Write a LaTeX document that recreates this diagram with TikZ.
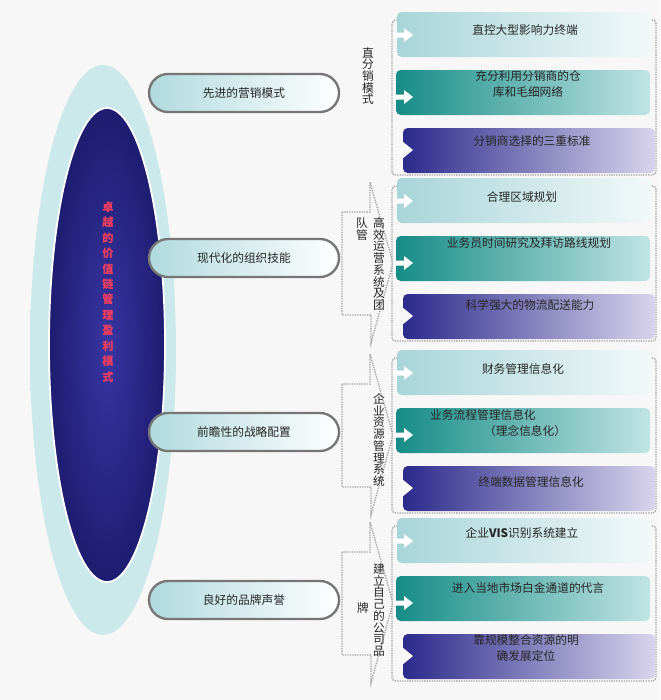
\documentclass[tikz,border=0pt]{standalone}
\usepackage{fontspec}
\setmainfont{Noto Sans CJK SC}
\usetikzlibrary{positioning, shapes.geometric, calc}
\definecolor{pagebg}{RGB}{247,247,247}
\definecolor{halo}{RGB}{186,224,228}
\definecolor{coreblue}{RGB}{30,28,112}
\definecolor{corelight}{RGB}{56,54,162}
\definecolor{pillrim}{RGB}{118,118,118}
\definecolor{pillcyan}{RGB}{176,218,222}
\definecolor{paleteal}{RGB}{168,213,217}
\definecolor{deepteal}{RGB}{22,140,134}
\definecolor{lightteal}{RGB}{192,228,228}
\definecolor{navyband}{RGB}{44,42,140}
\definecolor{lavender}{RGB}{216,212,236}
\definecolor{titlered}{RGB}{255,62,92}

\begin{document}
\begin{tikzpicture}[x=0.03cm, y=-0.03cm,
    pill/.style={draw=pillrim, line width=2pt, rounded corners=0.57cm, minimum width=5.7cm, minimum height=1.14cm, left color=pillcyan, right color=white, font=\fontsize{10}{12}\selectfont, text=black!85},
    frame/.style={densely dotted, draw=gray!75, line width=1.1pt, rounded corners=3pt},
    flag/.style={densely dotted, draw=gray!75, line width=1.1pt, left color=pagebg, middle color=gray!60, right color=pagebg},
    bartxt/.style={font=\fontsize{10}{14}\selectfont, text=black!85, align=center, inner sep=0pt},
    vlabel/.style={font=\fontsize{10}{10}\selectfont, text=black!85, align=center, inner sep=0pt},
]
% Background
\fill[pagebg] (0,0) rectangle (660,700);

% Core ellipse
\path[left color=halo!75!white, middle color=halo, right color=halo!75!white] (103,350) ellipse [x radius=73, y radius=285];
\path[draw=white, line width=1.5pt, inner color=corelight, outer color=coreblue] (107,345) ellipse [x radius=58, y radius=237];
\node[font=\fontsize{9.5}{13.2}\selectfont\bfseries, text=titlered, align=center, inner sep=0pt] (title) at (108,292) {卓\\越\\的\\价\\值\\链\\管\\理\\盈\\利\\模\\式};

% Pillars
\node[pill] (marketing) at (244,93) {先进的营销模式};
\node[pill] (organize) at (244,258) {现代化的组织技能};
\node[pill] (strategy) at (244,432) {前瞻性的战略配置};
\node[pill] (brand) at (244,600) {良好的品牌声誉};

% Side flags
\foreach \gy in {178,350,518}{
  \path[flag] (342,\gy+34) -- (370,\gy+34) -- (370,\gy+4) -- (393,\gy+85) -- (371,\gy+165) -- (371,\gy+137) -- (342,\gy+137) -- cycle;
}

% Groups of bands
\foreach \gy in {12,178,350,518}{
  \draw[frame] (392,\gy+8) rectangle (656,\gy+163);
  \path[rounded corners=4pt, left color=paleteal, right color=white!85!paleteal] (397,\gy) rectangle (651,\gy+45);
  \path[rounded corners=4pt, left color=deepteal, right color=lightteal] (396,\gy+58) rectangle (650,\gy+103);
  \path[rounded corners=4pt, left color=navyband, right color=lavender] (403,\gy+116) rectangle (655,\gy+161);
  % white arrows and notch
  \fill[white] (393,\gy+20.5) -- (404,\gy+20.5) -- (404,\gy+16) -- (413,\gy+23) -- (404,\gy+30) -- (404,\gy+25.5) -- (393,\gy+25.5) -- cycle;
  \fill[white] (393,\gy+82.5) -- (404,\gy+82.5) -- (404,\gy+78) -- (413,\gy+85) -- (404,\gy+92) -- (404,\gy+87.5) -- (393,\gy+87.5) -- cycle;
  \fill[pagebg] (402,\gy+129) -- (413,\gy+138) -- (402,\gy+147) -- cycle;
}

% Group 1
\node[vlabel] (direct) at (368,76) {直\\分\\销\\模\\式};
\node[bartxt] (terminal) at (525,30) {直控大型影响力终端};
\node[bartxt] (depot) at (528,84) {充分利用分销商的仓\\库和毛细网络};
\node[bartxt] (criteria) at (532,141) {分销商选择的三重标准};

% Group 2
\node[vlabel] (opsys) at (379,264) {高\\效\\运\\营\\系\\统\\及\\团};
\node[vlabel] (team) at (362,229) {队\\管};
\node[bartxt] (region) at (522,197) {合理区域规划};
\node[bartxt] (route) at (529,243) {业务员时间研究及拜访路线规划};
\node[bartxt] (logistics) at (530,305) {科学强大的物流配送能力};

% Group 3
\node[vlabel] (erp) at (379,440) {企\\业\\资\\源\\管\\理\\系\\统};
\node[bartxt] (finance) at (523,369) {财务管理信息化};
\node[bartxt, align=left, anchor=west] (process) at (430,423) {业务流程管理信息化\\\hspace{4.6em}（理念信息化）};
\node[bartxt] (data) at (531,482) {终端数据管理信息化};

% Group 4
\node[vlabel] (ownbrand) at (379,610) {建\\立\\自\\己\\的\\公\\司\\品};
\node[vlabel] (pai) at (363,608) {牌};
\node[bartxt] (vis) at (522,533) {企业\textbf{VIS}识别系统建立};
\node[bartxt] (channel) at (528,588) {进入当地市场白金通道的代言};
\node[bartxt] (scale) at (526,648) {靠规模整合资源的明\\确发展定位};
\end{tikzpicture}
\end{document}
